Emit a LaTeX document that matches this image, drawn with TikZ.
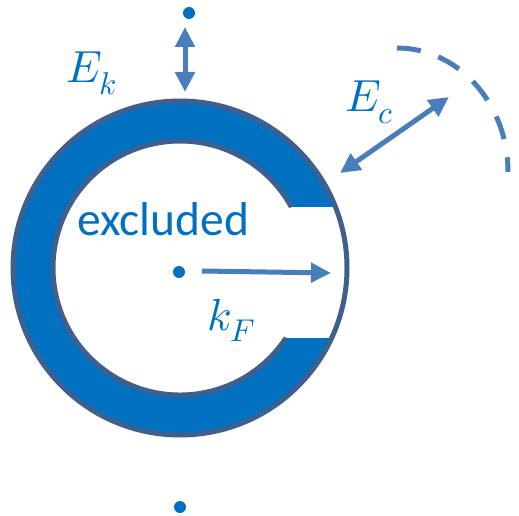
\documentclass[tikz,border=0pt]{standalone}
\usepackage{fontspec}
\usepackage{unicode-math}
\setmainfont{Carlito}
\setmathfont{Latin Modern Math}
\usetikzlibrary{arrows.meta}
\definecolor{ringblue}{HTML}{0070C0}
\definecolor{ringedge}{HTML}{3F5F8F}
\definecolor{arrowblue}{HTML}{4A7EBB}
\begin{document}
\begin{tikzpicture}[x=1pt,y=-1pt,
  tip/.tip={Triangle[width=19pt,length=20pt]},
  dblarrow/.style={arrowblue, line width=5pt, tip-tip},
  onearrow/.style={arrowblue, line width=5pt, -tip},
  dotnode/.style={circle, fill=ringblue, inner sep=0pt, minimum size=12pt},
  lbl/.style={text=ringblue, inner sep=0pt, anchor=base west, font=\fontsize{45}{50}\selectfont},
  edgeline/.style={ringedge, line width=5pt}]
\useasboundingbox (0,0) rectangle (519,516);
\coordinate (C) at (180,268);
% ring
\fill[ringblue] (C) circle[radius=167];
\fill[white] (C) circle[radius=127];
\begin{scope}
  \clip (C) circle[radius=167];
  \fill[white] (180,207) rectangle (400,338);
\end{scope}
\draw[edgeline] (C) ++(33.4:127) arc[start angle=33.4, end angle=331.3, radius=127];
\draw[edgeline] (C) circle[radius=167];
% dots
\node[dotnode] (topdot) at (189,13) {};
\node[dotnode] (centerdot) at (179,272) {};
\node[dotnode] (botdot) at (180,507) {};
% arrows
\coordinate (ekA) at (185,27);
\coordinate (ekB) at (185,92);
\draw[dblarrow] (ekA) -- (ekB);
\coordinate (ecA) at (340,173);
\coordinate (ecB) at (449,97);
\draw[dblarrow] (ecA) -- (ecB);
\coordinate (kfA) at (202,271);
\coordinate (kfB) at (331,273);
\draw[onearrow] (kfA) -- (kfB);
% dashed arc
\coordinate (arcS) at (397,48);
\draw[arrowblue, line width=5pt, dash pattern=on 24pt off 18.5pt] (arcS) arc[start angle=-90, end angle=0, x radius=111, y radius=124];
% labels
\node[lbl] (ek) at (66,83) {$E_k$};
\node[lbl] (ec) at (345,112) {$E_c$};
\node[lbl] (kf) at (207,330) {$k_F$};
\node[lbl, font=\fontsize{47.5}{50}\selectfont] (excl) at (77,235) {excluded};
\end{tikzpicture}
\end{document}
